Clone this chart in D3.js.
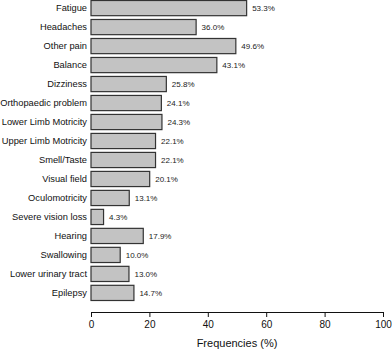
<!DOCTYPE html>
<html>
<head>
<meta charset="utf-8">
<script src="https://cdn.jsdelivr.net/npm/d3@7"></script>
<style>
  body { margin: 0; background: #fff; }
  svg { display: block; font-family: "Liberation Sans", Arial, sans-serif; }
</style>
</head>
<body>
<div id="chart"></div>
<script>
const categories = ['Fatigue', 'Headaches', 'Other pain', 'Balance', 'Dizziness',
  'Orthopaedic problem', 'Lower Limb Motricity', 'Upper Limb Motricity', 'Smell/Taste',
  'Visual field', 'Oculomotricity', 'Severe vision loss', 'Hearing', 'Swallowing',
  'Lower urinary tract', 'Epilepsy'];
const values = [53.3, 36.0, 49.6, 43.1, 25.8, 24.1, 24.3, 22.1, 22.1, 20.1, 13.1, 4.3, 17.9, 10.0, 13.0, 14.7];
const xTicks = [0, 20, 40, 60, 80, 100];

const width = 392;
const height = 353;

const data = categories.map((c, i) => ({ name: c, value: values[i] }));

const svg = d3.select('#chart')
  .append('svg')
  .attr('width', width)
  .attr('height', height);

const xScale = d3.scaleLinear().domain([0, 100]).range([91, 383]);
const yScale = d3.scaleBand()
  .domain(categories)
  .range([0.5, 300.5])
  .paddingInner(0.2)
  .paddingOuter(0);

// bars
svg.append('g')
  .selectAll('rect')
  .data(data)
  .join('rect')
  .attr('x', xScale(0))
  .attr('y', d => yScale(d.name))
  .attr('width', d => xScale(d.value) - xScale(0))
  .attr('height', yScale.bandwidth())
  .attr('fill', '#c3c3c3')
  .attr('stroke', '#333')
  .attr('stroke-width', 1.2);

// value labels
svg.append('g')
  .selectAll('text')
  .data(data)
  .join('text')
  .attr('x', d => xScale(d.value) + 5.5)
  .attr('y', d => yScale(d.name) + yScale.bandwidth() / 2)
  .attr('dy', '0.35em')
  .attr('font-size', 8)
  .attr('fill', '#222')
  .text(d => d.value.toFixed(1) + '%');

// category labels
svg.append('g')
  .selectAll('text')
  .data(data)
  .join('text')
  .attr('x', 87)
  .attr('y', d => yScale(d.name) + yScale.bandwidth() / 2)
  .attr('dy', '0.35em')
  .attr('text-anchor', 'end')
  .attr('font-size', 9.3)
  .attr('fill', '#111')
  .text(d => d.name);

// x axis
const xAxis = d3.axisBottom(xScale)
  .tickValues(xTicks)
  .tickSize(5)
  .tickPadding(4)
  .tickSizeOuter(0);

const axisG = svg.append('g')
  .attr('transform', 'translate(0, 312)')
  .call(xAxis);
axisG.select('.domain').attr('stroke', '#111');
axisG.selectAll('.tick line').attr('stroke', '#111');
axisG.selectAll('.tick text')
  .attr('font-size', 10)
  .attr('font-family', '"Liberation Sans", Arial, sans-serif')
  .attr('fill', '#111');

// axis title
svg.append('text')
  .attr('x', xScale(50))
  .attr('y', 347)
  .attr('text-anchor', 'middle')
  .attr('font-size', 11)
  .attr('fill', '#111')
  .text('Frequencies (%)');
</script>
</body>
</html>
